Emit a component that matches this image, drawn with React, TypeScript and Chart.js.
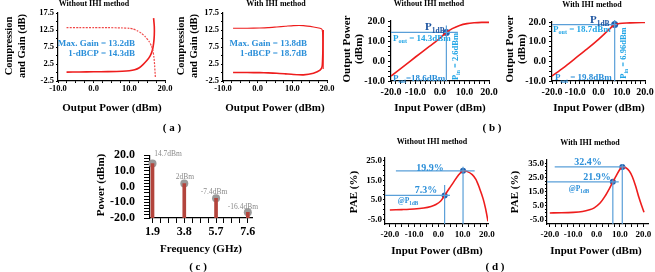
import React, { useEffect, useRef } from 'react';
import { Chart, registerables } from 'chart.js';

Chart.register(...registerables);

const SERIF = '"Liberation Serif", "Times New Roman", serif';
const RED = '#ee1d1d';
const GUIDE = '#5a9fd8';
const MARK = '#1f5fae';
const TXT_BLUE = '#2b8fd9';
const TXT_LIGHT = '#21a5e6';
const TXT_DARK = '#1d54a0';
const STEM = '#b3443c';
const GRAY = '#9a9a9a';

// ---------- (a) Compression and gain vs output power ----------
const a1GainX = [-7.6, -4, 0, 4, 8, 10, 11, 12.2, 13.3, 14.5, 15.5, 16.2, 16.6, 16.9, 17.1, 17.3];
const a1GainY = [13.2, 13.2, 13.2, 13.2, 13.1, 13.0, 12.8, 12.3, 11.6, 10.5, 9.2, 7.8, 6.5, 4.5, 2, -1.5];
const a1CompX = [-7.6, -4, 0, 4, 8, 10, 11.5, 12.8, 13.9, 14.9, 15.8, 16.4, 16.8, 17.0, 17.0, 16.8];
const a1CompY = [0.1, 0.15, 0.2, 0.25, 0.35, 0.5, 0.8, 1.4, 2.4, 3.5, 4.8, 6.3, 8.5, 11, 13.5, 16];

const a2GainX = [-7.1, -3, 0.6, 3, 5.5, 8, 10.3, 13.2, 16.1, 18.0, 18.6, 18.8, 18.9, 18.9];
const a2GainY = [13.0, 13.0, 13.1, 13.2, 13.4, 13.6, 13.8, 13.8, 13.4, 13.0, 12.6, 10, 5, 1];
const a2CompX = [-7.1, -3, 0.6, 3, 5.5, 8, 10.3, 13.2, 16.1, 18.0, 18.6, 18.8, 18.9];
const a2CompY = [0.0, 0.0, -0.05, -0.1, -0.2, -0.4, -0.6, -0.7, -0.2, 0.7, 1.8, 6, 12.5];

// ---------- (b) Output power vs input power ----------
const b1PinX = [-20, -15, -10, -5, -2, 0, 2.6, 5, 8, 11, 14, 17, 20];
const b1PoutY = [-7.5, -2.8, 2.0, 6.7, 9.4, 11.5, 14.3, 16.2, 17.8, 18.7, 19.1, 19.3, 19.3];
const b1HGuideX = [-20, 7.3];
const b1HGuideY = [14.3, 14.3];
const b1VGuideX = [2.6, 2.6];
const b1VGuideY = [-10, 17.8];
const b1MarkX = [2.6];
const b1MarkY = [14.3];

const b2PinX = [-20, -15, -10, -5, 0, 4, 6.96, 9, 12, 16, 20];
const b2PoutY = [-7.5, -3.2, 1.5, 6.2, 11.2, 15.6, 18.7, 19.2, 19.5, 19.7, 19.8];
const b2HGuideX = [-20, 7.9];
const b2HGuideY = [18.7, 18.7];
const b2VGuideX = [6.96, 6.96];
const b2VGuideY = [-10, 21];
const b2MarkX = [6.96];
const b2MarkY = [18.7];

// ---------- (c) Harmonic spectrum ----------
const cFreq = [1.9, 3.8, 5.7, 7.6];
const cPower = [14.7, 2, -7.4, -16.4];
const cLabels = ['14.7dBm', '2dBm', '-7.4dBm', '-16.4dBm'];

// ---------- (d) PAE vs input power ----------
const d1PinX = [-20, -15, -10, -6, -3, -1, 1, 2.6, 4.5, 6.5, 8.5, 10.2, 12, 14, 15.5, 17, 18.5, 19.5, 20.5];
const d1PaeY = [-0.2, 0, 0.3, 0.8, 1.6, 2.6, 4.4, 7.3, 10.8, 14.5, 18, 19.9, 19.5, 18, 15.5, 11, 5.5, 0.5, -6];
const d1GuideHiX = [-17.5, 15];
const d1GuideHiY = [19.9, 19.9];
const d1GuideLoX = [-22, 4.8];
const d1GuideLoY = [7.3, 7.3];
const d1GuideV1X = [2.6, 2.6];
const d1GuideV1Y = [-7.4, 12.6];
const d1GuideV2X = [10.2, 10.2];
const d1GuideV2Y = [-7.4, 22];
const d1MarkX = [2.6, 10.2];
const d1MarkY = [7.3, 19.9];

const d2PinX = [-20, -15, -10, -6, -3, -1, 1.5, 3.5, 5.5, 6.96, 8.5, 10, 11, 12.5, 14, 15.3, 16.7, 18.1, 19.3, 20.3];
const d2PaeY = [0, 0.1, 0.4, 1.0, 2.2, 3.6, 7, 11.5, 17.2, 21.9, 26.5, 30.8, 32.4, 31.8, 29.5, 25.5, 19, 11, 5, 0.5];
const d2GuideHiX = [-17.9, 12.4];
const d2GuideHiY = [32.4, 32.4];
const d2GuideLoX = [-21.2, 9.5];
const d2GuideLoY = [21.9, 21.9];
const d2GuideV1X = [6.96, 6.96];
const d2GuideV1Y = [-7.8, 23.5];
const d2GuideV2X = [11, 11];
const d2GuideV2Y = [-7.8, 34.5];
const d2MarkX = [6.96, 11];
const d2MarkY = [21.9, 32.4];

// ---------- helpers ----------
type Seg = { t: string; size: number; sub?: boolean; weight?: string };
type TextItem = {
  x: number;
  y: number;
  segs: Seg[];
  align?: 'left' | 'right' | 'center';
  color: string;
  rot?: number;
};

function drawSegs(ctx: CanvasRenderingContext2D, segs: Seg[], x: number, y: number, align: string, color: string) {
  const font = (s: Seg) => `${s.weight ?? 'bold'} ${s.size}px ${SERIF}`;
  const widths = segs.map((s) => {
    ctx.font = font(s);
    return ctx.measureText(s.t).width;
  });
  const total = widths.reduce((a, b) => a + b, 0);
  let cx = align === 'left' ? x : align === 'right' ? x - total : x - total / 2;
  const main = Math.max(...segs.map((s) => s.size));
  const base = y + main * 0.35;
  ctx.fillStyle = color;
  ctx.textAlign = 'left';
  ctx.textBaseline = 'alphabetic';
  segs.forEach((s, i) => {
    ctx.font = font(s);
    ctx.fillText(s.t, cx, base + (s.sub ? main * 0.25 : 0));
    cx += widths[i];
  });
}

const textPlugin = (items: TextItem[]) => ({
  id: 'txt',
  afterDatasetsDraw(chart: any) {
    const ctx = chart.ctx as CanvasRenderingContext2D;
    const xs = chart.scales.x;
    const ys = chart.scales.y;
    items.forEach((it) => {
      const px = xs.getPixelForValue(it.x);
      const py = ys.getPixelForValue(it.y);
      ctx.save();
      if (it.rot) {
        ctx.translate(px, py);
        ctx.rotate(it.rot);
        drawSegs(ctx, it.segs, 0, 0, it.align ?? 'center', it.color);
      } else {
        drawSegs(ctx, it.segs, px, py, it.align ?? 'center', it.color);
      }
      ctx.restore();
    });
  },
});

function range(a: number, b: number, step: number) {
  const out: number[] = [];
  for (let v = a; v <= b + 1e-9; v += step) out.push(Math.round(v * 1000) / 1000);
  return out;
}

const PAD = { L: 46, T: 14, R: 14, B: 26 };

function axis(o: {
  min: number;
  max: number;
  ticks: number[];
  labels: number[];
  size: number;
  isX: boolean;
  tickLen: number;
  pad: number;
}) {
  return {
    type: 'linear',
    min: o.min,
    max: o.max,
    offset: false,
    afterBuildTicks: (s: any) => {
      s.ticks = o.ticks.map((v) => ({ value: v }));
    },
    afterFit: (s: any) => {
      if (o.isX) s.height = PAD.B;
      else s.width = PAD.L;
    },
    ticks: {
      autoSkip: false,
      maxRotation: 0,
      minRotation: 0,
      padding: o.pad,
      color: '#000',
      font: { family: SERIF, size: o.size, weight: 'bold' },
      callback: (v: number) => (o.labels.some((m) => Math.abs(m - v) < 1e-6) ? Number(v).toFixed(1) : ''),
    },
    grid: {
      display: true,
      drawOnChartArea: false,
      drawTicks: true,
      tickLength: o.tickLen,
      color: '#000',
      tickColor: '#000',
      tickWidth: 1,
      offset: false,
    },
    border: { display: true, color: '#000', width: 1.2 },
  };
}

const pts = (xs: number[], ys: number[]) => xs.map((x, i) => ({ x, y: ys[i] }));
const curve = (xs: number[], ys: number[], color: string, width: number, extra: any = {}) => ({
  type: 'scatter',
  data: pts(xs, ys),
  showLine: true,
  borderColor: color,
  backgroundColor: color,
  borderWidth: width,
  pointRadius: 0,
  tension: 0.2,
  ...extra,
});
const dots = (xs: number[], ys: number[], color: string, r: number) => ({
  type: 'scatter',
  data: pts(xs, ys),
  showLine: false,
  pointRadius: r,
  backgroundColor: color,
  borderColor: color,
  borderWidth: 0,
  clip: false,
});
const guide = (xs: number[], ys: number[]) => curve(xs, ys, GUIDE, 1.2, { tension: 0, clip: false });

function cfg(datasets: any[], x: any, y: any, texts: TextItem[], type = 'scatter') {
  return {
    type,
    data: { datasets },
    options: {
      responsive: false,
      animation: false,
      events: [],
      layout: { padding: { left: 0, top: PAD.T, right: PAD.R, bottom: 0 } },
      plugins: { legend: { display: false }, tooltip: { enabled: false }, title: { display: false } },
      scales: { x, y },
    },
    plugins: [textPlugin(texts)],
  } as any;
}

type Box = { l: number; t: number; r: number; b: number };

function Plot({ box, make }: { box: Box; make: () => any }) {
  const ref = useRef<HTMLCanvasElement>(null);
  const w = box.r - box.l + PAD.L + PAD.R;
  const h = box.b - box.t + PAD.T + PAD.B;
  useEffect(() => {
    const chart = new Chart(ref.current as HTMLCanvasElement, make());
    return () => chart.destroy();
  }, []);
  return (
    <canvas
      ref={ref}
      width={w}
      height={h}
      style={{ position: 'absolute', left: box.l - PAD.L, top: box.t - PAD.T, width: w, height: h }}
    />
  );
}

// ---------- panel configs ----------
const aX = (size = 8.5) =>
  axis({ min: -10, max: 20, ticks: range(-10, 20, 2.5), labels: [-10, 0, 10, 20], size, isX: true, tickLen: 2, pad: 1 });
const aY = () =>
  axis({ min: -2.5, max: 17.5, ticks: range(-2.5, 17.5, 2.5), labels: [-2.5, 2.5, 7.5, 12.5, 17.5], size: 8.5, isX: false, tickLen: 2, pad: 2 });
const bX = () =>
  axis({ min: -20, max: 20, ticks: range(-20, 20, 2), labels: [-20, -10, 0, 10, 20], size: 10, isX: true, tickLen: 3, pad: 2 });
const bY = () =>
  axis({ min: -10, max: 20, ticks: range(-10, 20, 2.5), labels: [-10, 0, 10, 20], size: 10, isX: false, tickLen: 3, pad: 3 });

const one = (t: string, size: number, weight?: string): Seg[] => [{ t, size, weight }];
const pSub = (sub: string, rest: string, size = 9): Seg[] => [
  { t: 'P', size },
  { t: sub, size: size * 0.68, sub: true },
  { t: rest, size },
];

const makeA1 = () =>
  cfg(
    [
      curve(a1GainX, a1GainY, '#f04848', 1.2, { borderDash: [2, 1.2] }),
      curve(a1CompX, a1CompY, RED, 1.6),
    ],
    aX(),
    aY(),
    [
      { x: 11.6, y: 8.6, segs: one('Max. Gain = 13.2dB', 9), align: 'right', color: TXT_BLUE },
      { x: 11.6, y: 5.8, segs: one('1-dBCP = 14.3dB', 9), align: 'right', color: TXT_BLUE },
    ]
  );

const makeA2 = () =>
  cfg(
    [curve(a2GainX, a2GainY, RED, 1.1), curve(a2CompX, a2CompY, RED, 1.6)],
    aX(),
    aY(),
    [
      { x: 14.2, y: 8.6, segs: one('Max. Gain = 13.8dB', 9), align: 'right', color: TXT_BLUE },
      { x: 14.2, y: 5.8, segs: one('1-dBCP = 18.7dB', 9), align: 'right', color: TXT_BLUE },
    ]
  );

const makeB1 = () =>
  cfg(
    [
      guide(b1HGuideX, b1HGuideY),
      guide(b1VGuideX, b1VGuideY),
      curve(b1PinX, b1PoutY, RED, 1.6, { tension: 0.3 }),
      dots(b1MarkX, b1MarkY, MARK, 3.5),
    ],
    bX(),
    bY(),
    [
      { x: -6.1, y: 17.4, segs: pSub('1dB', '', 11), align: 'left', color: TXT_DARK },
      { x: -19.2, y: 11.75, segs: pSub('out', ' = 14.3dBm'), align: 'left', color: TXT_LIGHT },
      { x: 6.1, y: 2.25, segs: pSub('in', ' = 2.6dBm', 8.5), align: 'center', color: TXT_LIGHT, rot: -Math.PI / 2 },
      { x: -19.2, y: -8.25, segs: pSub('sat', '=18.6dBm'), align: 'left', color: TXT_BLUE },
    ]
  );

const makeB2 = () =>
  cfg(
    [
      guide(b2HGuideX, b2HGuideY),
      guide(b2VGuideX, b2VGuideY),
      curve(b2PinX, b2PoutY, RED, 1.6, { tension: 0.3 }),
      dots(b2MarkX, b2MarkY, MARK, 3.5),
    ],
    bX(),
    bY(),
    [
      { x: -3.65, y: 21.55, segs: pSub('1dB', '', 11), align: 'left', color: TXT_DARK },
      { x: -19.6, y: 16.5, segs: pSub('out', ' = 18.7dBm'), align: 'left', color: TXT_LIGHT },
      { x: 10.5, y: 4.2, segs: pSub('in', ' = 6.96dBm', 8.5), align: 'center', color: TXT_LIGHT, rot: -Math.PI / 2 },
      { x: -18.7, y: -8.1, segs: pSub('sat', ' = 19.8dBm'), align: 'left', color: TXT_BLUE },
    ]
  );

const cLabelPos = [
  { x: 2.0, y: 21.4, align: 'left' as const },
  { x: 3.84, y: 6.5, align: 'center' as const },
  { x: 5.58, y: -3.2, align: 'center' as const },
  { x: 7.31, y: -12.4, align: 'center' as const },
];

const makeC = () =>
  cfg(
    [
      {
        type: 'bar',
        data: cFreq.map((f, i) => ({ x: f, y: [-20, cPower[i]] })),
        backgroundColor: STEM,
        borderWidth: 0,
        barThickness: 3,
        grouped: false,
      },
      dots(cFreq, cPower, GRAY, 4),
    ],
    axis({ min: 1.75, max: 7.85, ticks: range(1.9, 7.6, 0.475), labels: cFreq, size: 12, isX: true, tickLen: 5, pad: 2 }),
    axis({ min: -20, max: 20, ticks: range(-20, 20, 2), labels: [-20, -10, 0, 10, 20], size: 12, isX: false, tickLen: 6, pad: 9 }),
    cLabels.map((t, i) => ({
      x: cLabelPos[i].x,
      y: cLabelPos[i].y,
      segs: one(t, 7.5, 'normal'),
      align: cLabelPos[i].align,
      color: '#8a8a8a',
    })),
    'bar'
  );

const makeD1 = () =>
  cfg(
    [
      guide(d1GuideHiX, d1GuideHiY),
      guide(d1GuideLoX, d1GuideLoY),
      guide(d1GuideV1X, d1GuideV1Y),
      guide(d1GuideV2X, d1GuideV2Y),
      curve(d1PinX, d1PaeY, RED, 1.6, { tension: 0.3 }),
      dots(d1MarkX, d1MarkY, MARK, 3),
    ],
    axis({ min: -22, max: 20.5, ticks: range(-20, 20, 2.5), labels: [-20, -10, 0, 10, 20], size: 9, isX: true, tickLen: 3, pad: 2 }),
    axis({ min: -7.4, max: 26.5, ticks: range(-5, 25, 2.5), labels: [-5, 5, 15, 25], size: 9, isX: false, tickLen: 2, pad: 1 }),
    [
      { x: -3.43, y: 21.7, segs: one('19.9%', 10), color: TXT_BLUE },
      { x: -5.1, y: 10.1, segs: one('7.3%', 10), color: TXT_BLUE },
      { x: -12.5, y: 4.9, segs: [{ t: '@P', size: 7.5 }, { t: '1dB', size: 5.2, sub: true }], color: TXT_BLUE },
    ]
  );

const makeD2 = () =>
  cfg(
    [
      guide(d2GuideHiX, d2GuideHiY),
      guide(d2GuideLoX, d2GuideLoY),
      guide(d2GuideV1X, d2GuideV1Y),
      guide(d2GuideV2X, d2GuideV2Y),
      curve(d2PinX, d2PaeY, RED, 1.6, { tension: 0.3 }),
      dots(d2MarkX, d2MarkY, MARK, 3),
    ],
    axis({ min: -21.2, max: 22, ticks: range(-20, 20, 2.5), labels: [-20, -10, 0, 10, 20], size: 9, isX: true, tickLen: 3, pad: 2 }),
    axis({ min: -7.8, max: 37.3, ticks: range(-5, 35, 2.5), labels: [-5, 5, 15, 25, 35], size: 9, isX: false, tickLen: 2, pad: 1 }),
    [
      { x: -3.66, y: 36, segs: one('32.4%', 10), color: TXT_BLUE },
      { x: 0.2, y: 25.4, segs: one('21.9%', 10), color: TXT_BLUE },
      { x: -7.5, y: 17.3, segs: [{ t: '@P', size: 7.5 }, { t: '1dB', size: 5.2, sub: true }], color: TXT_BLUE },
    ]
  );

// ---------- HTML text overlays ----------
function Txt({ x, y, size, children, rot, lh }: { x: number; y: number; size: number; children: any; rot?: boolean; lh?: number }) {
  return (
    <div
      style={{
        position: 'absolute',
        left: x,
        top: y,
        transform: `translate(-50%, -50%)${rot ? ' rotate(-90deg)' : ''}`,
        fontFamily: SERIF,
        fontWeight: 'bold',
        fontSize: size,
        lineHeight: `${lh ?? size + 2}px`,
        whiteSpace: 'nowrap',
        textAlign: 'center',
        color: '#000',
        zIndex: 2,
      }}
    >
      {children}
    </div>
  );
}

export default function App() {
  return (
    <div
      style={{
        position: 'absolute',
        left: 0,
        top: 0,
        width: 655,
        height: 272,
        background: '#fff',
        overflow: 'hidden',
      }}
    >
      <Plot box={{ l: 58, t: 13, r: 165, b: 81 }} make={makeA1} />
      <Plot box={{ l: 223, t: 13, r: 327, b: 81 }} make={makeA2} />
      <Plot box={{ l: 391, t: 21, r: 489, b: 81 }} make={makeB1} />
      <Plot box={{ l: 552, t: 22, r: 645, b: 81 }} make={makeB2} />
      <Plot box={{ l: 150, t: 153, r: 252, b: 218 }} make={makeC} />
      <Plot box={{ l: 385, t: 158, r: 488, b: 224 }} make={makeD1} />
      <Plot box={{ l: 547, t: 160, r: 648, b: 224 }} make={makeD2} />

      <Txt x={94} y={4} size={8}>Without IHI method</Txt>
      <Txt x={276} y={4} size={8}>With IHI method</Txt>
      <Txt x={429} y={4} size={8}>Without IHI method</Txt>
      <Txt x={592} y={5} size={8}>With IHI method</Txt>
      <Txt x={432} y={142} size={8}>Without IHI method</Txt>
      <Txt x={590} y={143} size={8}>With IHI method</Txt>

      <Txt x={112} y={107} size={11}>Output Power (dBm)</Txt>
      <Txt x={275} y={107} size={11}>Output Power (dBm)</Txt>
      <Txt x={440} y={107} size={11}>Input Power (dBm)</Txt>
      <Txt x={599} y={107} size={11}>Input Power (dBm)</Txt>
      <Txt x={201} y={248} size={11}>Frequency (GHz)</Txt>
      <Txt x={437} y={250} size={11}>Input Power (dBm)</Txt>
      <Txt x={596} y={250} size={11}>Input Power (dBm)</Txt>

      <Txt x={15} y={46} size={10.5} rot lh={13}>
        Compression
        <br />
        and Gain (dB)
      </Txt>
      <Txt x={187} y={46} size={10.5} rot lh={13}>
        Compression
        <br />
        and Gain (dB)
      </Txt>
      <Txt x={352} y={49} size={11} rot lh={12}>
        Output Power
        <br />
        (dBm)
      </Txt>
      <Txt x={515} y={49} size={11} rot lh={12}>
        Output Power
        <br />
        (dBm)
      </Txt>
      <Txt x={100} y={185} size={11} rot>Power (dBm)</Txt>
      <Txt x={353} y={192} size={11} rot>PAE (%)</Txt>
      <Txt x={514} y={192} size={11} rot>PAE (%)</Txt>

      <Txt x={172} y={127} size={11}>( a )</Txt>
      <Txt x={492} y={127} size={11}>( b )</Txt>
      <Txt x={198} y={266} size={11}>( c )</Txt>
      <Txt x={495} y={266} size={11}>( d )</Txt>
    </div>
  );
}
